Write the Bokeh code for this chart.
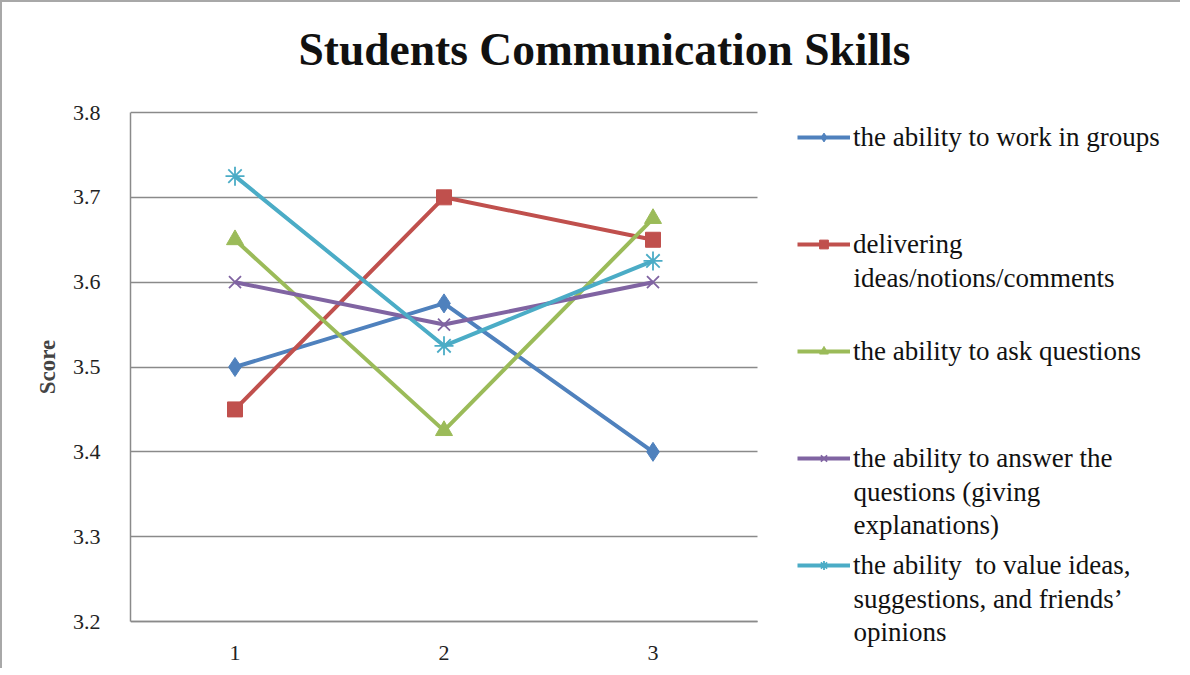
from bokeh.plotting import figure
from bokeh.models import Legend, LegendItem, Label, Title, Range1d, FixedTicker
from bokeh.embed import file_html
from bokeh.resources import INLINE

# ---- data ----
categories = [1, 2, 3]
work_in_groups = [3.5, 3.575, 3.4]
delivering_ideas = [3.45, 3.7, 3.65]
ask_questions = [3.65, 3.425, 3.675]
answer_questions = [3.6, 3.55, 3.6]
value_ideas = [3.725, 3.525, 3.625]
y_ticks = [3.2, 3.3, 3.4, 3.5, 3.6, 3.7, 3.8]

title_text = "Students Communication Skills"
y_label = "Score"
series_names = [
    ["the ability to work in groups"],
    ["delivering", "ideas/notions/comments"],
    ["the ability to ask questions"],
    ["the ability to answer the", "questions (giving", "explanations)"],
    ["the ability  to value ideas,", "suggestions,  and friends\u2019", "opinions"],
]
series_values = [work_in_groups, delivering_ideas, ask_questions, answer_questions, value_ideas]
colors = ["#4F81BD", "#C0504D", "#9BBB59", "#8064A2", "#4BACC6"]
markers = ["diamond", "square", "triangle", "x", "asterisk"]
marker_sizes = [19, 15, 17, 17, 19]

SERIF = "Liberation Serif"

# ---- layout (image pixels; canvas origin sits 2px in because of the css border) ----
OFF = 2
W, H = 1180, 668
ML, MT, MR, MB = 128, 65, 4, 4
frame_left = OFF + ML
frame_top = OFF + MT
frame_right = OFF + W - MR
frame_bottom = OFF + H - MB
data_left, data_right = 130, 757      # x of 0.5 and 3.5
data_top, data_bottom = 112, 621      # y of 3.8 and 3.2
px_x = (data_right - data_left) / 3.0
px_y = (data_bottom - data_top) / 0.6
x_range = Range1d(0.5 - (data_left - frame_left) / px_x, 0.5 + (frame_right - data_left) / px_x)
y_range = Range1d(3.2 - (frame_bottom - data_bottom) / px_y, 3.8 + (data_top - frame_top) / px_y)

p = figure(width=W, height=H, x_range=x_range, y_range=y_range,
           output_backend="svg", toolbar_location=None,
           min_border_left=ML, min_border_top=MT, min_border_right=MR,
           min_border_bottom=MB, title=None)
p.styles = {"border-top": "2px solid #a8a8a8", "border-left": "2px solid #a8a8a8"}
p.outline_line_color = None
p.background_fill_color = "white"
p.border_fill_color = "white"

# title
p.add_layout(Title(text=title_text, align="left", offset=168, standoff=-15,
                   text_font=SERIF, text_font_size="45.5px", text_font_style="bold",
                   text_color="#111111"), "above")

# axes
p.xaxis.ticker = FixedTicker(ticks=categories)
p.xaxis.bounds = (0.5, 3.5)
p.xaxis.fixed_location = 3.2
p.yaxis.ticker = FixedTicker(ticks=y_ticks)
p.yaxis.bounds = (3.2, 3.8)
p.yaxis.axis_label = y_label
p.yaxis.axis_label_text_font = SERIF
p.yaxis.axis_label_text_font_style = "bold"
p.yaxis.axis_label_text_font_size = "23px"
p.yaxis.axis_label_standoff = 10
for ax in (p.xaxis, p.yaxis):
    ax.major_label_text_font = SERIF
    ax.major_label_text_font_size = "22px"
    ax.major_label_text_color = "#222222"
    ax.major_tick_line_color = None
    ax.minor_tick_line_color = None
    ax.axis_line_color = "#8a8a8a"
    ax.axis_line_width = 1.5
p.yaxis.major_label_standoff = 24
p.xaxis.major_label_standoff = 18
p.xgrid.grid_line_color = None

ygrid = p.ygrid[0]
if "cross_bounds" in ygrid.properties():
    ygrid.grid_line_color = "#8a8a8a"
    ygrid.grid_line_width = 1.5
    ygrid.bounds = (3.2, 3.8)
    ygrid.cross_bounds = (0.5, 3.5)
else:
    ygrid.grid_line_color = None
    p.segment(x0=[0.5] * len(y_ticks), x1=[3.5] * len(y_ticks), y0=y_ticks, y1=y_ticks,
              line_color="#8a8a8a", line_width=1.5)

# series
item_renderers = []
for vals, col, mk, ms in zip(series_values, colors, markers, marker_sizes):
    lr = p.line(x=categories, y=vals, line_color=col, line_width=4)
    if mk in ("x", "asterisk"):
        sr = p.scatter(x=categories, y=vals, marker=mk, size=ms, line_color=col, line_width=1.8)
    else:
        sr = p.scatter(x=categories, y=vals, marker=mk, size=ms, fill_color=col, line_color=col)
    item_renderers.append([lr, sr])

# legend (inside the frame, to the right of the data area)
item_centers = [137, 244, 351, 458, 565]   # image y of each entry's first line
line_gap = 33
glyph_x = 797 - frame_left
ITEM_H = 40
STEP = 107
legend_bottom = item_centers[-1] + ITEM_H / 2
leg = Legend(items=[LegendItem(label=n[0], renderers=r) for n, r in zip(series_names, item_renderers)],
             location=(glyph_x, frame_bottom - legend_bottom),
             padding=0, margin=0, spacing=STEP - ITEM_H, border_line_color=None,
             background_fill_alpha=0, glyph_width=53, glyph_height=22, label_height=ITEM_H,
             label_standoff=3, label_text_font=SERIF, label_text_font_size="27px",
             label_text_color="#111111")
p.add_layout(leg, "center")
for names, yc in zip(series_names, item_centers):
    for k, extra in enumerate(names[1:], start=1):
        p.add_layout(Label(x=glyph_x + 56, y=frame_bottom - (yc + k * line_gap),
                           x_units="screen", y_units="screen", text=extra,
                           text_font=SERIF, text_font_size="27px", text_color="#111111",
                           text_baseline="middle", text_align="left"))

open("out.html", "w").write(file_html(p, INLINE))
